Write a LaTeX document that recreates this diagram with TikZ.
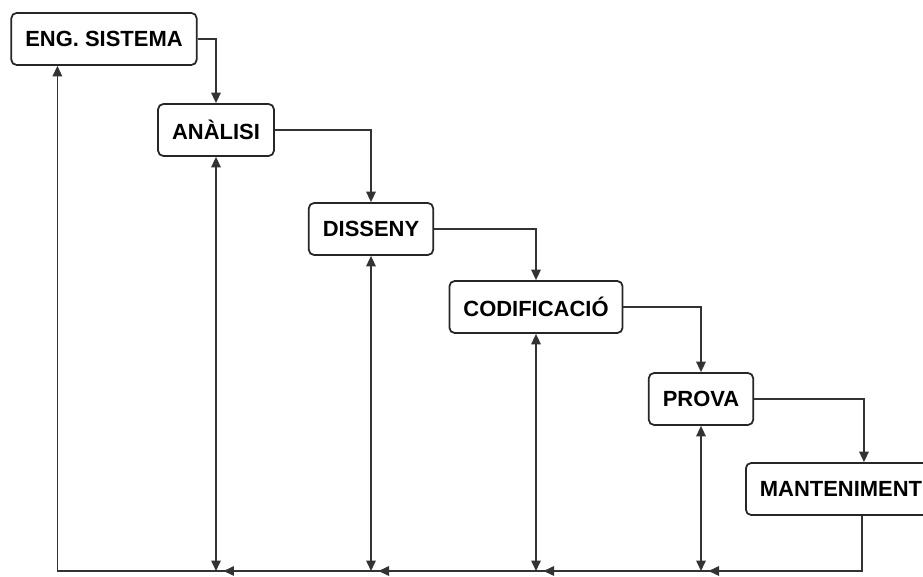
\documentclass[tikz,border=0pt]{standalone}
\usepackage{fontspec}
\setmainfont{Liberation Sans}
\usetikzlibrary{arrows.meta}

\tikzset{
  fase/.style={draw=black!85, line width=1pt, rounded corners=3pt, fill=white,
    font=\fontsize{12.5}{14}\selectfont\bfseries, minimum height=1.04cm, inner xsep=0.28cm},
  flux/.style={draw=black!80, line width=0.9pt},
}

\begin{document}
\begin{tikzpicture}[x=0.02cm,y=-0.02cm,>={Triangle[length=2.1mm,width=1.9mm]}]
\useasboundingbox (0,0) rectangle (923,577);
\node[fase] (eng) at (104,39) {ENG. SISTEMA};
\node[fase] (anal) at (216,130) {ANÀLISI};
\node[fase] (diss) at (371,229) {DISSENY};
\node[fase] (codi) at (536,307) {CODIFICACIÓ};
\node[fase] (prova) at (701,399) {PROVA};
\node[fase,anchor=west] (mant) at (745,489) {MANTENIMENT};
\coordinate (fb) at (0,571);
% cap avall
\draw[flux,->] (eng.east) -| (anal.north);
\draw[flux,->] (anal.east) -| (diss.north);
\draw[flux,->] (diss.east) -| (codi.north);
\draw[flux,->] (codi.east) -| (prova.north);
\draw[flux,->] (prova.east) -| ([xshift=2.38cm]mant.north west);
% retorn
\draw[flux,->] ([xshift=2.34cm]mant.south west) |- (anal.south |- fb) -| ([xshift=0.94cm]eng.south west);
\draw[flux,->] (prova.south |- fb) -- ([xshift=0.15cm]codi.south |- fb);
\draw[flux,->] (codi.south |- fb) -- ([xshift=0.15cm]diss.south |- fb);
\draw[flux,->] (diss.south |- fb) -- ([xshift=0.15cm]anal.south |- fb);
\draw[flux,->] ([xshift=2.34cm]mant.south west |- fb) -- ([xshift=0.15cm]prova.south |- fb);
\draw[flux,<->] (anal.south) -- (anal.south |- fb);
\draw[flux,<->] (diss.south) -- (diss.south |- fb);
\draw[flux,<->] (codi.south) -- (codi.south |- fb);
\draw[flux,<->] (prova.south) -- (prova.south |- fb);
\end{tikzpicture}
\end{document}
